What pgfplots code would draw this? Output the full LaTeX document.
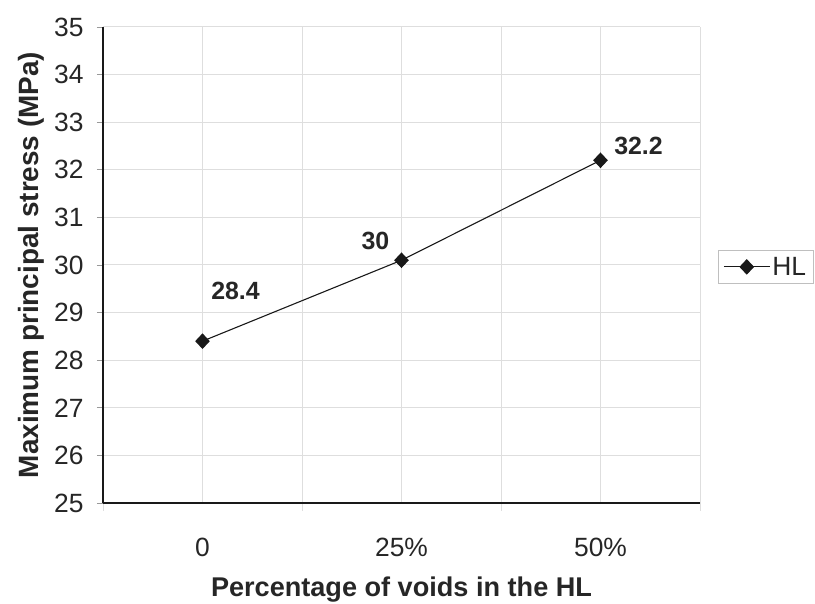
\documentclass[border=0pt]{standalone}
\usepackage{fontspec}
\setmainfont{Liberation Sans}
\usepackage{pgfplots}
\pgfplotsset{compat=1.18}
\newcommand{\lbl}{\fontsize{26.5}{30}\selectfont}
\newcommand{\alblx}{\fontsize{27.2}{31}\selectfont}
\newcommand{\albly}{\fontsize{28}{32}\selectfont}
\newcommand{\dlbl}{\fontsize{25}{29}\selectfont}
\begin{document}
\begin{tikzpicture}
\useasboundingbox (0,0) rectangle (815bp,604bp);
\begin{axis}[
  at={(103bp,101bp)}, anchor=south west,
  scale only axis, width=597bp, height=476bp,
  xmin=-0.5, xmax=2.5, ymin=25, ymax=35,
  axis x line=bottom, axis y line=left,
  axis line style={-, line width=2bp, black!90},
  xtick={0,1,2}, xticklabels={0,25\%,50\%},
  minor xtick={-0.5,0.5,1.5,2.5},
  ytick={25,26,...,35},
  xmajorgrids, xminorgrids, ymajorgrids,
  major grid style={draw=black!13, line width=1bp},
  minor grid style={draw=black!13, line width=1bp},
  tick align=outside,
  major tick length=6bp, minor tick length=8bp,
  major x tick style={draw=none},
  minor x tick style={draw=black!13, line width=1bp},
  ytick style={draw=black!40, line width=0.8bp},
  /pgf/number format/assume math mode=true,
  tick label style={font=\lbl, text=black!85},
  xticklabel style={yshift=-26bp},
  yticklabel style={xshift=-10bp},
  xlabel={Percentage of voids in the HL},
  ylabel={Maximum principal stress (MPa)},
  every axis x label/.style={at={(axis description cs:0.5,-0.182)}, anchor=center, font=\bfseries\alblx, text=black!85},
  every axis y label/.style={at={(axis description cs:-0.12,0.5)}, rotate=90, anchor=center, font=\bfseries\albly, text=black!85},
  legend style={at={(1.03,0.496)}, anchor=west, draw=black!25, line width=0.6bp, font=\lbl, text=black!85, inner sep=5bp},
  legend image code/.code={\draw[mark repeat=2,mark phase=2,#1] plot coordinates {(0bp,0bp) (23bp,0bp) (46bp,0bp)};},
]
% data series
\addplot[black!90, line width=1.1bp, mark=diamond*, mark size=7bp, mark options={xscale=1.25}]
  coordinates {(0,28.4) (1,30.1) (2,32.2)};
\addlegendentry{HL}

% data labels
\addplot[forget plot, draw=none, nodes near coords, point meta=explicit symbolic,
  every node near coord/.append style={anchor=center, xshift=33bp, yshift=50bp, font=\bfseries\dlbl, text=black!85}]
  coordinates {(0,28.4) [28.4]};
\addplot[forget plot, draw=none, nodes near coords, point meta=explicit symbolic,
  every node near coord/.append style={anchor=center, xshift=-26bp, yshift=19bp, font=\bfseries\dlbl, text=black!85}]
  coordinates {(1,30.1) [30]};
\addplot[forget plot, draw=none, nodes near coords, point meta=explicit symbolic,
  every node near coord/.append style={anchor=center, xshift=38bp, yshift=14bp, font=\bfseries\dlbl, text=black!85}]
  coordinates {(2,32.2) [32.2]};
\end{axis}
\end{tikzpicture}
\end{document}
